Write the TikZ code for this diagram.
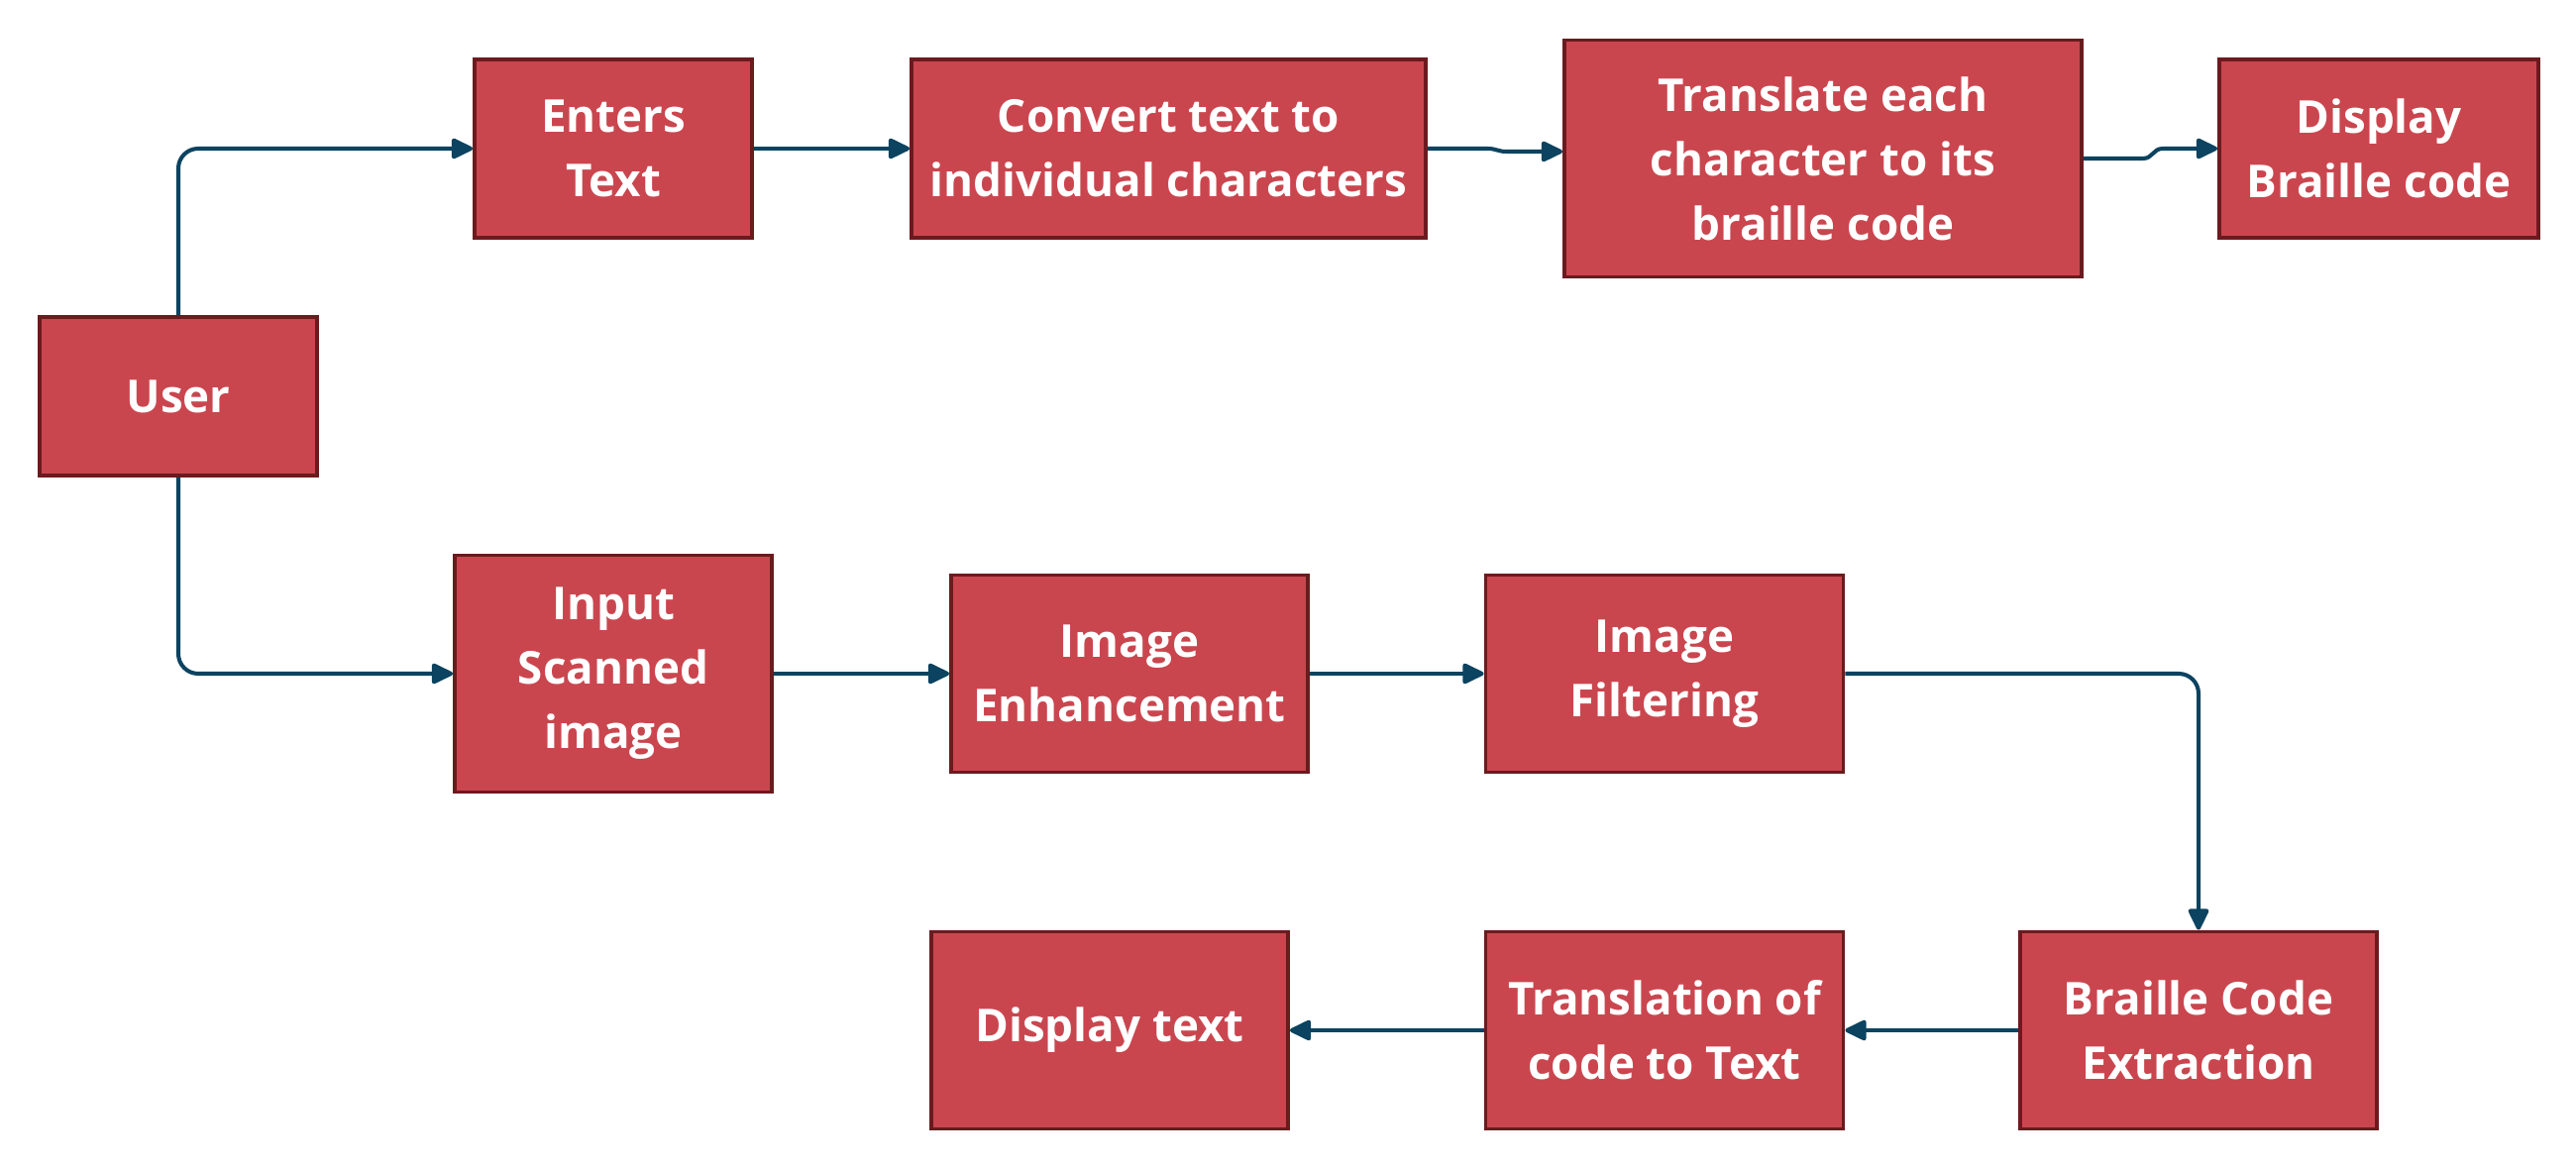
\documentclass[tikz,border=0pt]{standalone}
\usepackage{fontspec}
\setmainfont{Open Sans}
\usepackage{tikz}
\usetikzlibrary{positioning,arrows.meta}

\definecolor{boxfill}{HTML}{CA464F}
\definecolor{boxline}{HTML}{6B1A1E}
\definecolor{flowline}{HTML}{0B4360}

\begin{document}
\begin{tikzpicture}[x=0.01cm,y=-0.01cm]
\tikzstyle{stepbox}=[draw=boxline,fill=boxfill,line width=1pt,rectangle,
  text=white,align=center,inner sep=2pt,
  font=\fontsize{13}{18.5}\selectfont\bfseries]
\tikzstyle{flow}=[draw=flowline,line width=1.15pt,rounded corners=0.2cm,
  -{Triangle[length=0.24cm,width=0.22cm,round]}]
\useasboundingbox (0,0) rectangle (2600,1180);
% top row
\node[stepbox,minimum width=2.8cm,minimum height=1.6cm] (user) at (180,400) {User};
\node[stepbox,minimum width=2.8cm,minimum height=1.8cm] (enters) at (619,150) {Enters\\Text};
\node[stepbox,minimum width=5.19cm,minimum height=1.8cm] (convert) at (1179.5,150) {Convert text to\\individual characters};
\node[stepbox,minimum width=5.22cm,minimum height=2.39cm] (translate) at (1840,160) {Translate each\\character to its\\braille code};
\node[stepbox,minimum width=3.22cm,minimum height=1.8cm] (dispbr) at (2401,150) {Display\\Braille code};
% middle row
\node[stepbox,minimum width=3.2cm,minimum height=2.39cm] (input) at (619,680) {Input\\Scanned\\image};
\node[stepbox,minimum width=3.6cm,minimum height=1.99cm] (enhance) at (1140,680) {Image\\Enhancement};
\node[stepbox,minimum width=3.61cm,minimum height=1.99cm] (filter) at (1680,680) {Image\\Filtering};
% bottom row
\node[stepbox,minimum width=3.6cm,minimum height=1.99cm] (extract) at (2219,1040) {Braille Code\\Extraction};
\node[stepbox,minimum width=3.61cm,minimum height=1.99cm] (transl) at (1680,1040) {Translation of\\code to Text};
\node[stepbox,minimum width=3.6cm,minimum height=1.99cm] (disptext) at (1120,1040) {Display text};
% connectors
\draw[flow] (user.north) |- (enters.west);
\draw[flow] (user.south) |- (input.west);
\draw[flow] (enters) -- (convert);
\draw[flow] (convert.east) -- ++(40,0) .. controls +(30,0) and +(-30,0) .. ++(60,3) -- ([yshift=0.07cm]translate.west);
\draw[flow] (translate.east) -- ++(40,0) .. controls +(30,0) and +(-30,0) .. ++(60,-10) -- (dispbr.west);
\draw[flow] (input) -- (enhance);
\draw[flow] (enhance) -- (filter);
\draw[flow] (filter.east) -| (extract.north);
\draw[flow] (extract) -- (transl);
\draw[flow] (transl) -- (disptext);
\end{tikzpicture}
\end{document}
